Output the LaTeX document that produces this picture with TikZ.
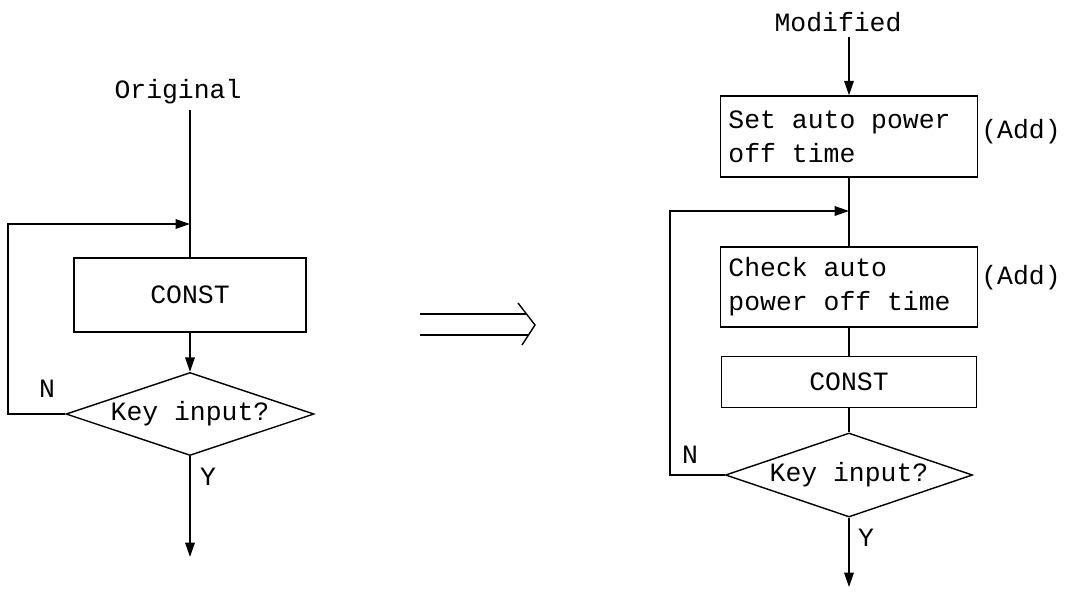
\documentclass[tikz,border=0pt]{standalone}
\usepackage{fontspec}
\setmonofont[WordSpace={1,0,0}]{Liberation Mono}
\usepackage{tikz}
\usetikzlibrary{arrows.meta, shapes.geometric, calc}

\begin{document}
\begin{tikzpicture}[x=0.025cm, y=-0.025cm, line width=1pt,
    font=\ttfamily\fontsize{18.8}{24}\selectfont,
    flow box/.style={draw, rectangle, inner sep=0pt},
    step box/.style={flow box, align=left, inner sep=0.2cm,
        execute at begin node={\spaceskip=0pt\relax}},
    test node/.style={draw, diamond, aspect=3, inner sep=0pt},
    flow arrow/.style={-{Triangle[length=3.6mm, width=2.4mm]}}]
    \useasboundingbox (0,0) rectangle (1065,592);

    % original loop
    \node (orig) at (178,92) {Original};
    \node[flow box, minimum width=5.8cm, minimum height=1.85cm] (lconst) at (190,295) {CONST};
    \node[test node, minimum width=6.2cm, minimum height=2.075cm] (lkey) at (190,414) {Key input?};
    \coordinate (ljoin) at (190,224);
    \coordinate (lcorner) at (8,224);
    \coordinate (lout) at (190,557);
    \node (ln) at (47,389) {N};
    \node (ly) at (208,477) {Y};

    \draw (lconst.north |- orig.south) -- (lconst.north);
    \draw[flow arrow] (lconst) -- (lkey);
    \draw[flow arrow] (lkey.west) -| (lcorner) -- (ljoin);
    \draw[flow arrow] (lkey) -- (lout);

    % change-over arrow
    \coordinate (impa) at (420,325);
    \coordinate (impb) at (535,325);
    \draw (impa) ++(0,-11) -- ($(impb)+(-8,-11)$);
    \draw (impa) ++(0,10) -- ($(impb)+(-7,10)$);
    \draw ($(impb)+(-17,-22)$) -- (impb) -- ($(impb)+(-13,20)$);

    % modified loop
    \node (modi) at (838,22) {Modified};
    \node[step box, text width=6.025cm, minimum height=2.025cm] (setoff) at (849,136.5) {Set auto power\\off time};
    \node (add1) at (1021,132) {(Add)};
    \node[step box, text width=6.025cm, minimum height=2cm] (chkoff) at (849,287) {Check auto\\power off time};
    \node (add2) at (1021,278) {(Add)};
    \node[flow box, minimum width=6.375cm, minimum height=1.275cm] (rconst) at (849,382) {CONST};
    \node[test node, minimum width=6.175cm, minimum height=2.1cm] (rkey) at (849,475) {Key input?};
    \coordinate (rjoin) at (849,211);
    \coordinate (rcorner) at (670,211);
    \coordinate (rout) at (849,587);
    \node (rn) at (690,455) {N};
    \node (ry) at (866,538) {Y};

    \draw[flow arrow] (setoff.north |- modi.south) -- (setoff.north);
    \draw (setoff) -- (chkoff);
    \draw (chkoff) -- (rconst);
    \draw (rconst) -- (rkey);
    \draw[flow arrow] (rkey.west) -| (rcorner) -- (rjoin);
    \draw[flow arrow] (rkey) -- (rout);
\end{tikzpicture}
\end{document}
